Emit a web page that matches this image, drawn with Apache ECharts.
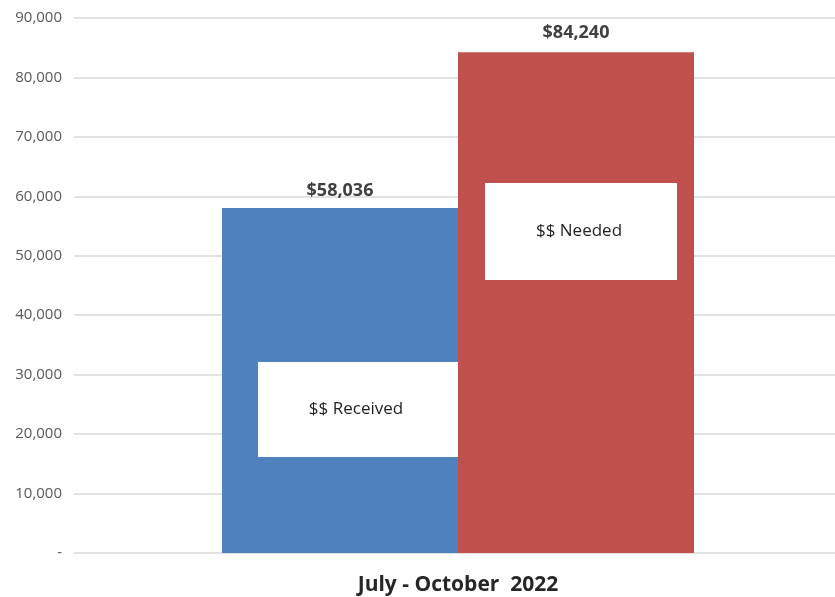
<!DOCTYPE html>
<html>
<head>
<meta charset="utf-8">
<script src="https://cdn.jsdelivr.net/npm/echarts@6/dist/echarts.min.js"></script>
<style>
  html, body { margin: 0; padding: 0; background: #fff; }
  #chart { width: 835px; height: 597px; }
</style>
</head>
<body>
<div id="chart"></div>
<script>
const categories = ['July - October  2022'];
const received = [58036];
const needed = [84240];
const seriesNames = ['$$ Received', '$$ Needed'];
const yMax = 90000;
const yStep = 10000;

const font = '"Open Sans", "Noto Sans", sans-serif';
const myChart = echarts.init(document.getElementById('chart'));

function money(v) {
  return '$' + v.toLocaleString('en-US');
}

// white callout box sitting on a bar, plus its caption
function box(x, y, w, h, text) {
  return [
    {
      type: 'rect',
      z: 100,
      shape: { x: x, y: y, width: w, height: h },
      style: { fill: '#fff' }
    },
    {
      type: 'text',
      z: 101,
      x: x + w / 2 - 2,
      y: y + h / 2,
      style: {
        text: text,
        fill: '#1f1f1f',
        fontSize: 17,
        fontFamily: font,
        align: 'center',
        verticalAlign: 'middle'
      }
    }
  ];
}

myChart.setOption({
  animation: false,
  grid: { left: 74, top: 18, width: 768, bottom: 44, outerBoundsMode: 'none' },
  xAxis: {
    type: 'category',
    data: categories,
    axisTick: { show: false },
    axisLine: { show: false },
    axisLabel: {
      margin: 22,
      fontSize: 21,
      fontWeight: 'bold',
      fontFamily: font,
      color: '#262626'
    }
  },
  yAxis: {
    type: 'value',
    min: 0,
    max: yMax,
    interval: yStep,
    axisLine: { show: false },
    axisTick: { show: false },
    splitLine: { lineStyle: { color: '#d9d9d9', width: 1.5 } },
    axisLabel: {
      margin: 12,
      fontSize: 15,
      fontFamily: font,
      color: '#595959',
      formatter(v) {
        return v === 0 ? '-' : v.toLocaleString('en-US');
      }
    }
  },
  series: [
    {
      name: seriesNames[0],
      type: 'bar',
      data: received,
      barWidth: 236,
      barGap: '0%',
      itemStyle: { color: '#4F81BD' },
      label: {
        show: true,
        position: 'top',
        distance: 8,
        formatter: (p) => money(p.value),
        fontSize: 18,
        fontWeight: 'bold',
        fontFamily: font,
        color: '#404040'
      }
    },
    {
      name: seriesNames[1],
      type: 'bar',
      data: needed,
      barWidth: 236,
      barGap: '0%',
      itemStyle: { color: '#C0504D' },
      label: {
        show: true,
        position: 'top',
        distance: 10,
        formatter: (p) => money(p.value),
        fontSize: 18,
        fontWeight: 'bold',
        fontFamily: font,
        color: '#404040'
      }
    }
  ],
  graphic: [
    ...box(258, 362, 200, 95, seriesNames[0]),
    ...box(485, 183, 192, 97, seriesNames[1])
  ]
});
</script>
</body>
</html>
